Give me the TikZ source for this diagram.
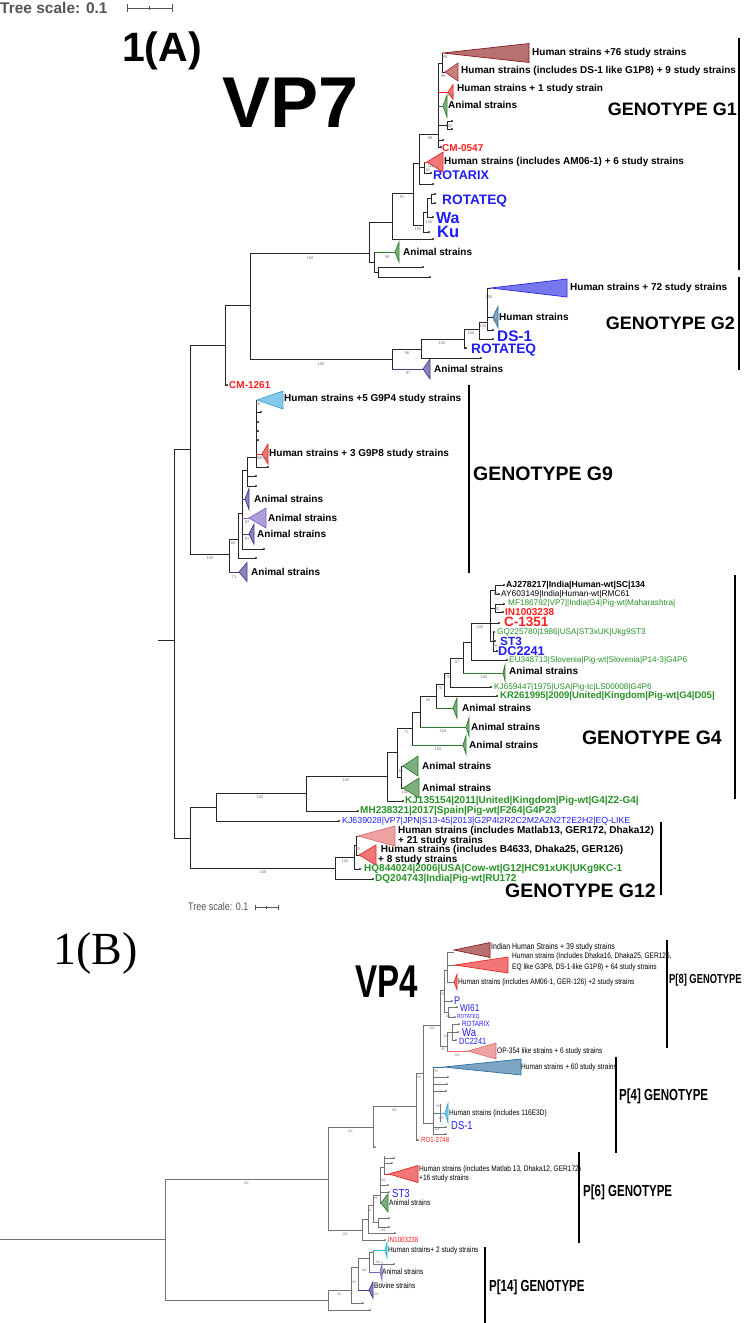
\documentclass[tikz,border=0pt]{standalone}
\usepackage{fontspec}
\setmainfont{Liberation Sans}
\newfontfamily\narrowsans[FakeStretch=0.82]{Liberation Sans}
\newfontfamily\condsans[FakeStretch=0.72]{Liberation Sans}
\newfontfamily\romanfont{Liberation Serif}
\usepackage{tikz}
\definecolor{refblue}{HTML}{1E1EF0}
\definecolor{studyred}{HTML}{FF2020}
\definecolor{accgreen}{HTML}{279127}
\definecolor{scalegray}{HTML}{555555}
\definecolor{cMaroon}{HTML}{8B1A1A}
\definecolor{cBrown}{HTML}{A83030}
\definecolor{cRed}{HTML}{E82424}
\definecolor{cPink}{HTML}{E26A6A}
\definecolor{cBlue}{HTML}{2424E6}
\definecolor{cSteel}{HTML}{2C6EA0}
\definecolor{cSky}{HTML}{3AA6DA}
\definecolor{cGreen}{HTML}{2E7D2E}
\definecolor{cPurple}{HTML}{4B3690}
\definecolor{cLilac}{HTML}{7C62C2}
\definecolor{cCyan}{HTML}{22BCD4}
\newcommand{\fsz}[1]{\fontsize{#1}{#1}\selectfont}
\newcommand{\clade}[5]{\filldraw[clade=#5] (#1,#2) -- (#3,{#2-#4}) -- (#3,{#2+#4}) -- cycle;}
\newcommand{\leaf}[3]{\draw[branch] (#1,#2) -- (#3,#2); \fill[black!85] (#3,#2) circle (1.1);}
\newcommand{\leafB}[3]{\draw[branchB] (#1,#2) -- (#3,#2); \fill[black!70] (#3,#2) circle (0.9);}
\tikzset{
  branch/.style={draw=black!85, line width=0.9pt},
  branchB/.style={draw=black!55, line width=0.6pt},
  clade/.style={draw=#1, fill=#1, fill opacity=0.62, line width=0.7pt},
  genobar/.style={draw=black, line width=2.6pt},
  genobarB/.style={draw=black, line width=1.6pt},
  bs/.style={font=\fsz{4}, text=black!55, inner sep=0pt},
  bsB/.style={font=\narrowsans\fsz{3.5}, text=black!55, inner sep=0pt},
  clbl/.style={anchor=west, inner sep=1pt, font=\bfseries\fsz{10}},
  ref/.style={anchor=west, inner sep=1pt, text=refblue, font=\bfseries\fsz{#1}},
  study/.style={anchor=west, inner sep=1pt, text=studyred, font=\bfseries\fsz{#1}},
  acc/.style={anchor=west, inner sep=1pt, text=accgreen, font=\fsz{#1}},
  accb/.style={anchor=west, inner sep=1pt, text=accgreen, font=\bfseries\fsz{#1}},
  geno/.style={inner sep=0pt, font=\bfseries\fsz{#1}},
  lblB/.style={anchor=west, inner sep=1pt, font=\narrowsans\fsz{8}},
  refB/.style={anchor=west, inner sep=1pt, text=refblue, font=\narrowsans\fsz{#1}},
  studyB/.style={anchor=west, inner sep=1pt, text=studyred, font=\narrowsans\fsz{#1}},
  genoB/.style={anchor=west, inner sep=0pt, font=\condsans\bfseries\fsz{#1}}
}
\begin{document}
\begin{tikzpicture}[x=1pt, y=-1pt]
\useasboundingbox (0,0) rectangle (744,1323);

\node[anchor=west, inner sep=0pt, text=scalegray, font=\bfseries\fsz{15.5}] (scaleA) at (0,8) {Tree scale: 0.1};
\draw[draw=scalegray, line width=0.9pt] (127,8) -- (172,8) (127,4) -- (127,12) (172,4) -- (172,12) (149.5,6) -- (149.5,10);
\node[anchor=base west, inner sep=0pt, font=\bfseries\fsz{41}] (figA) at (122,61) {1(A)};
\node[anchor=base west, inner sep=0pt, font=\bfseries\fsz{72}] (vpA) at (222,127) {VP7};

\draw[branch] (158,640) -- (174,640) (174,449) -- (174,838)
  (174,449) -- (190,449) (190,345) -- (190,554)
  (190,345) -- (225,345) (225,305) -- (225,385)
  (225,305) -- (250,305) (250,253) -- (250,359)
  (250,253) -- (369,253) (250,359) -- (392,359)
  (190,554) -- (229,554) (174,838) -- (190,838);
\leaf{225}{385}{227}
\node[study=10] (cm1261) at (228,385) {CM-1261};

\draw[branch] (369,222) -- (369,262) (369,222) -- (392,222) (369,262) -- (374,262)
  (374,252) -- (374,272) (374,272) -- (378,272) (378,267) -- (378,277)
  (392,193) -- (392,239) (392,193) -- (413,193)
  (413,163) -- (413,225) (413,225) -- (423,225) (413,163) -- (419,163)
  (423,212) -- (423,232) (423,212) -- (427,212)
  (427,198) -- (427,217) (427,198) -- (431,198) (431,194) -- (431,203)
  (419,134) -- (419,184) (419,167) -- (424,167) (424,162) -- (424,173) (419,134) -- (438,134)
  (438,63) -- (438,147) (438,63) -- (442,63) (442,53) -- (442,72)
  (438,125) -- (447,125) (447,121) -- (447,129)
  (442,53) -- (443,53) (442,72) -- (445,72);
\draw[branch, draw=cGreen] (374,252) -- (395,252) (438,106) -- (443,106);
\draw[branch, draw=cRed] (438,92) -- (448,92) (424,162) -- (427,162);
\leaf{378}{267}{423} \leaf{378}{277}{430} \leaf{392}{239}{433} \leaf{423}{232}{429}
\leaf{427}{217}{433} \leaf{431}{194}{435} \leaf{431}{203}{435} \leaf{419}{184}{433}
\leaf{424}{173}{431} \leaf{438}{147}{441} \leaf{438}{140}{443} \leaf{447}{121}{452} \leaf{447}{129}{452}
\clade{443}{53}{529}{9.5}{cMaroon}
\clade{445}{72}{458}{9}{cBrown}
\clade{448}{92}{453}{7.5}{cRed}
\clade{443}{106}{447}{11}{cGreen}
\clade{427}{162}{443}{10}{cRed}
\clade{395}{252}{399}{10}{cGreen}
\node[clbl] (g1a) at (531,53) {Human strains +76 study strains};
\node[clbl] (g1b) at (460,71) {Human strains (includes DS-1 like G1P8) + 9 study strains};
\node[clbl] (g1c) at (456,89) {Human strains + 1 study strain};
\node[clbl] (g1d) at (447,105) {Animal strains};
\node[study=10] (cm0547) at (441,148) {CM-0547};
\node[clbl] (g1e) at (443,162) {Human strains (includes AM06-1) + 6 study strains};
\node[ref=12.6] (rotarixA) at (432,175) {ROTARIX};
\node[ref=13.7] (rotateqA) at (441,201) {ROTATEQ};
\node[ref=16] (waA) at (435,218) {Wa};
\node[ref=16.5] (kuA) at (436,232) {Ku};
\node[clbl] (g1f) at (402,252) {Animal strains};
\draw[genobar] (739,38) -- (739,270);
\node[geno=18, anchor=base east] (genoG1) at (737,115) {GENOTYPE G1};

\draw[branch] (392,349) -- (392,369) (392,349) -- (421,349)
  (421,339) -- (421,358) (421,339) -- (464,339)
  (464,329) -- (464,348) (464,329) -- (479,329)
  (479,322) -- (479,339) (479,322) -- (487,322)
  (487,288) -- (487,330) (487,288) -- (491,288) (487,317) -- (493,317);
\draw[branch, draw=cPurple] (392,369) -- (423,369);
\leaf{421}{358}{481} \leaf{464}{348}{466} \leaf{479}{339}{493} \leaf{487}{330}{493}
\clade{491}{288}{567}{9}{cBlue}
\clade{493}{317}{498}{10.5}{cSteel}
\clade{423}{369}{430}{10}{cPurple}
\node[clbl] (g2a) at (569,288) {Human strains + 72 study strains};
\node[clbl] (g2b) at (498,317) {Human strains};
\node[ref=15.3] (ds1A) at (496,336) {DS-1};
\node[ref=13.7] (rotateqA2) at (470,350) {ROTATEQ};
\node[clbl] (g2c) at (433,369) {Animal strains};
\draw[genobar] (739,277) -- (739,370);
\node[geno=18, anchor=base east] (genoG2) at (735,329) {GENOTYPE G2};

\draw[branch] (229,539) -- (229,572) (229,539) -- (238,539)
  (238,513) -- (238,558) (238,513) -- (242,513)
  (242,470) -- (242,549) (242,470) -- (247,470)
  (247,457) -- (247,486) (247,457) -- (256,457)
  (256,400) -- (256,467) (256,400) -- (257,400);
\draw[branch, draw=cPurple] (229,572) -- (239,572) (242,534) -- (249,534) (242,499) -- (245,499);
\draw[branch, draw=cLilac] (242,518) -- (249,518);
\draw[branch, draw=cRed] (256,454) -- (262,454);
\leaf{238}{558}{256} \leaf{242}{549}{264} \leaf{247}{486}{256} \leaf{247}{476}{256}
\leaf{256}{467}{268} \leaf{256}{412}{261} \leaf{256}{422}{258} \leaf{256}{431}{258} \leaf{256}{440}{258}
\clade{257}{400}{283}{9}{cSky}
\clade{262}{454}{268}{10}{cRed}
\clade{245}{499}{249}{10.5}{cPurple}
\clade{249}{518}{266}{10}{cLilac}
\clade{249}{534}{254}{10}{cPurple}
\clade{239}{572}{247}{9.5}{cPurple}
\node[clbl] (g9a) at (283,399) {Human strains +5 G9P4 study strains};
\node[clbl] (g9b) at (268,454) {Human strains + 3 G9P8 study strains};
\node[clbl] (g9c) at (253,499) {Animal strains};
\node[clbl] (g9d) at (267,518) {Animal strains};
\node[clbl] (g9e) at (256,534) {Animal strains};
\node[clbl] (g9f) at (250,572) {Animal strains};
\draw[genobar] (469,385) -- (469,573);
\node[geno=19.5, anchor=base west] (genoG9) at (473,480) {GENOTYPE G9};

\draw[branch] (190,807) -- (190,868) (190,807) -- (216,807) (190,868) -- (335,868)
  (216,793) -- (216,821) (216,793) -- (306,793)
  (306,776) -- (306,811) (306,776) -- (387,776)
  (387,752) -- (387,801) (387,752) -- (397,752)
  (397,728) -- (397,777) (397,777) -- (401,777) (397,728) -- (412,728)
  (401,766) -- (401,788) (401,766) -- (403,766) (401,788) -- (403,788)
  (412,712) -- (412,745) (412,712) -- (420,712)
  (420,696) -- (420,727) (420,696) -- (436,696)
  (436,684) -- (436,708) (436,684) -- (444,684)
  (444,673) -- (444,696) (444,673) -- (450,673)
  (450,658) -- (450,687) (450,658) -- (463,658)
  (463,642) -- (463,673) (463,642) -- (471,642)
  (471,623) -- (471,660) (471,623) -- (490,623)
  (490,590) -- (490,641) (490,590) -- (495,590) (490,608) -- (495,608) (490,641) -- (493,641)
  (495,585) -- (495,594) (495,604) -- (495,612) (493,632) -- (493,651);
\draw[branch, draw=cGreen] (412,745) -- (463,745) (420,727) -- (466,727) (436,708) -- (453,708) (463,673) -- (503,673);
\leaf{216}{821}{339} \leaf{306}{811}{358} \leaf{387}{801}{403} \leaf{444}{696}{497} \leaf{450}{687}{491}
\leaf{471}{660}{507} \leaf{495}{585}{504} \leaf{495}{594}{499} \leaf{495}{604}{504} \leaf{495}{612}{503}
\leaf{490}{623}{499} \leaf{493}{632}{494} \leaf{493}{641}{495} \leaf{493}{651}{497}
\clade{403}{766}{418}{10}{cGreen}
\clade{403}{788}{419}{10}{cGreen}
\clade{463}{745}{466}{9}{cGreen}
\clade{466}{727}{469}{9}{cGreen}
\clade{453}{708}{457}{10}{cGreen}
\clade{503}{673}{505}{8}{cGreen}
\node[clbl, font=\bfseries\fsz{8.7}] (aj278217) at (505,585) {AJ278217|India|Human-wt|SC|134};
\node[clbl, font=\fsz{8.3}] (ay603149) at (500,594) {AY603149|India|Human-wt|RMC61};
\node[acc=8.2] (mf186792) at (507,603.5) {MF186792|VP7||India|G4|Pig-wt|Maharashtra|};
\node[study=10] (in1003238A) at (504,612) {IN1003238};
\node[study=13.5] (c1351) at (503,622) {C-1351};
\node[acc=8.2] (gq225780) at (496,632.5) {GQ225780|1986|USA|ST3xUK|Ukg9ST3};
\node[ref=11.8] (st3A) at (499,641) {ST3};
\node[ref=12.7] (dc2241A) at (497,651) {DC2241};
\node[acc=8.2] (eu348713) at (508,660) {EU348713|Slovenia|Pig-wt|Slovenia|P14-3|G4P6};
\node[clbl] (g4a) at (508,671) {Animal strains};
\node[acc=8.2] (kj659447) at (493,687) {KJ659447|1975|USA|Pig-tc|LS00008|G4P6};
\node[accb=9.5] (kr261995) at (499,696) {KR261995|2009|United|Kingdom|Pig-wt|G4|D05|};
\node[clbl] (g4b) at (461,708) {Animal strains};
\node[clbl] (g4c) at (470,727) {Animal strains};
\node[clbl] (g4d) at (468,745) {Animal strains};
\node[clbl] (g4e) at (421,766) {Animal strains};
\node[clbl] (g4f) at (421,788) {Animal strains};
\node[accb=10] (kj135154) at (404,801) {KJ135154|2011|United|Kingdom|Pig-wt|G4|Z2-G4|};
\node[accb=10] (mh238321) at (359,811) {MH238321|2017|Spain|Pig-wt|F264|G4P23};
\node[anchor=west, inner sep=1pt, text=refblue, font=\fsz{8.8}] (kj639028) at (341,821) {KJ639028|VP7|JPN|S13-45|2013|G2P4I2R2C2M2A2N2T2E2H2|EQ-LIKE};
\draw[genobar] (735,575) -- (735,799);
\node[geno=19.5, anchor=base east] (genoG4) at (722,744) {GENOTYPE G4};

\draw[branch] (335,857) -- (335,879) (335,857) -- (354,857)
  (354,845) -- (354,869) (354,845) -- (356,845)
  (356,836) -- (356,855) (356,836) -- (358,836) (356,855) -- (359,855);
\leaf{335}{879}{373} \leaf{354}{869}{360}
\clade{358}{836}{395}{10}{cPink}
\clade{359}{855}{376}{10}{cRed}
\node[clbl, align=left] (g12a) at (397,836) {Human strains (includes Matlab13, GER172, Dhaka12)\\+ 21 study strains};
\node[clbl, align=left] (g12b) at (377,855) {\ Human strains (includes B4633, Dhaka25, GER126)\\+ 8 study strains};
\node[accb=10] (hq844024) at (363,869) {HQ844024|2006|USA|Cow-wt|G12|HC91xUK|UKg9KC-1};
\node[accb=10] (dq204743) at (374,879) {DQ204743|India|Pig-wt|RU172};
\draw[genobar] (661,822) -- (661,895);
\node[geno=19.5, anchor=base east] (genoG12) at (656,897) {GENOTYPE G12};

\foreach \bx/\by/\bv [count=\bi] in {310/258/100, 387/257/99, 402/197/91, 418/229/100, 429/222/100,
  430/138/99, 445/57/99, 443/76/99, 451/95/100, 449/126/100, 428/170/62, 431/166/100,
  321/364/100, 407/353/96, 408/373/97, 442/343/100, 471/333/100, 483/326/100, 489/297/100, 495/321/99,
  210/558/100, 234/577/71, 233/543/66, 247/522/97, 247/539/97, 258/404/65, 259/458/98, 264/458/100,
  260/797/100, 263/872/100, 346/780/100, 401/771/66, 405/792/100, 406/732/71, 438/749/100, 443/731/100,
  428/700/94, 440/688/70, 447/677/73, 457/662/97, 484/677/100, 480/627/100, 497/609/92, 496/594/66,
  495/646/78, 345/861/100, 357/849/100}
  \node[bs] (bsA\bi) at (\bx,\by) {\bv};

\node[anchor=west, inner sep=0pt, text=scalegray, font=\narrowsans\fsz{11}] (scaleB) at (188,907) {Tree scale: 0.1};
\draw[draw=scalegray, line width=0.6pt] (255,907) -- (278,907) (255,904.5) -- (255,909.5) (278,904.5) -- (278,909.5) (266.5,905.5) -- (266.5,908.5);
\node[anchor=base west, inner sep=0pt, font=\romanfont\fsz{46}] (figB) at (53,964) {1(B)};
\node[anchor=base west, inner sep=0pt, font=\condsans\bfseries\fsz{46}] (vpB) at (355,997) {VP4};

\draw[branchB] (0,1239) -- (165,1239) (165,1179) -- (165,1300)
  (165,1179) -- (328,1179) (165,1300) -- (328,1300)
  (328,1127) -- (328,1230) (328,1127) -- (373,1127) (328,1230) -- (362,1230)
  (373,1106) -- (373,1147) (373,1106) -- (416,1106)
  (416,1073) -- (416,1140) (416,1073) -- (423,1073)
  (423,1025) -- (423,1123) (423,1025) -- (440,1025) (423,1123) -- (433,1123)
  (433,1067) -- (433,1134) (433,1113) -- (440,1113) (440,1104) -- (440,1122)
  (440,990) -- (440,1046) (440,990) -- (444,990) (440,1046) -- (447,1046)
  (444,970) -- (444,1012) (444,970) -- (447,970) (444,1012) -- (448,1012)
  (447,952) -- (447,982) (447,952) -- (454,952) (447,965) -- (455,965) (447,982) -- (454,982)
  (448,1007) -- (448,1017)
  (447,1032) -- (447,1051) (447,1032) -- (452,1032) (452,1024) -- (452,1040);
\draw[branchB, draw=cSteel] (433,1067) -- (444,1067);
\draw[branchB, draw=cSky] (440,1113) -- (445,1113);
\draw[branchB, draw=cPink] (447,1051) -- (468,1051);
\leafB{373}{1147}{375} \leafB{416}{1140}{418} \leafB{433}{1077}{448} \leafB{433}{1084}{447}
\leafB{433}{1091}{446} \leafB{433}{1127}{446} \leafB{433}{1134}{446} \leafB{444}{1001}{452}
\leafB{448}{1007}{457} \leafB{448}{1017}{455} \leafB{452}{1024}{459} \leafB{452}{1032}{458} \leafB{452}{1040}{456}
\clade{454}{950}{490}{7.5}{cMaroon}
\clade{455}{965}{508}{8}{cRed}
\clade{454}{982}{457}{7.5}{cRed}
\clade{468}{1051}{496}{8}{cPink}
\clade{444}{1067}{521}{8}{cSteel}
\clade{445}{1113}{448}{9.5}{cSky}
\node[lblB, font=\narrowsans\fsz{8.5}] (p8a) at (490,947) {Indian Human Strains + 39 study strains};
\node[lblB, font=\narrowsans\fontsize{8}{11}\selectfont, align=left] (p8b) at (511,962) {Human strains (Includes Dhaka16, Dhaka25, GER126,\\EQ like G3P8, DS-1-like G1P8) + 64 study strains};
\node[lblB] (p8c) at (457,982) {Human strains (includes AM06-1, GER-126) +2 study strains};
\node[refB=11] (pB) at (453,1001) {P};
\node[refB=10] (wi61) at (459,1008) {WI61};
\node[refB=5.8] (rotateqB) at (456,1017) {ROTATEQ};
\node[refB=7.6] (rotarixB) at (461,1024) {ROTARIX};
\node[refB=11.5] (waB) at (461,1033) {Wa};
\node[refB=9] (dc2241B) at (458,1041) {DC2241};
\node[lblB] (p8d) at (496,1051) {OP-354 like strains + 6 study strains};
\draw[genobarB] (667,940) -- (667,1048);
\node[genoB=13] (genoP8) at (669,980) {P[8] GENOTYPE};
\node[lblB] (p4a) at (520,1067) {Human strains + 60 study strains};
\node[lblB] (p4b) at (448,1113) {Human strains (includes 116E3D)};
\node[refB=11.5] (ds1B) at (450,1126) {DS-1};
\node[studyB=7.4] (ro12748) at (420,1140) {RO1-2748};
\draw[genobarB] (616,1057) -- (616,1153);
\node[genoB=16] (genoP4) at (619,1096) {P[4] GENOTYPE};

\draw[branchB] (362,1219) -- (362,1240) (362,1219) -- (368,1219)
  (368,1205) -- (368,1233) (368,1205) -- (373,1205)
  (373,1195) -- (373,1222) (373,1222) -- (378,1222) (378,1218) -- (378,1227) (373,1195) -- (380,1195)
  (380,1167) -- (380,1203) (380,1167) -- (384,1167) (384,1156) -- (384,1174);
\draw[branchB, draw=cGreen] (380,1203) -- (381,1203);
\draw[branchB, draw=cRed] (384,1174) -- (389,1174);
\leafB{362}{1240}{385} \leafB{368}{1233}{395} \leafB{378}{1218}{389} \leafB{378}{1227}{389}
\leafB{380}{1192}{389} \leafB{380}{1185}{388} \leafB{384}{1158}{394} \leafB{384}{1163}{392}
\clade{389}{1174}{418}{8.5}{cRed}
\clade{381}{1203}{388}{9}{cGreen}
\node[lblB, font=\narrowsans\fontsize{8}{9}\selectfont, align=left] (p6a) at (418,1174) {Human strains (includes Matlab 13, Dhaka12, GER172)\\+16 study strains};
\node[refB=11.7] (st3B) at (391,1193) {ST3};
\node[lblB] (p6b) at (388,1203) {Animal strains};
\node[studyB=7.5] (in1003238B) at (387,1240) {IN1003238};
\draw[genobarB] (579,1152) -- (579,1243);
\node[genoB=16] (genoP6) at (583,1192) {P[6] GENOTYPE};

\draw[branchB] (328,1290) -- (328,1310) (328,1290) -- (351,1290)
  (351,1267) -- (351,1303) (351,1267) -- (358,1267)
  (358,1258) -- (358,1290) (358,1258) -- (369,1258)
  (369,1252) -- (369,1272) (369,1252) -- (373,1252) (373,1250) -- (373,1264);
\draw[branchB, draw=cPurple] (358,1290) -- (369,1290);
\draw[branchB, draw=cLilac] (369,1272) -- (380,1272);
\draw[branchB, draw=cCyan] (373,1250) -- (385,1250);
\leafB{328}{1310}{370} \leafB{351}{1303}{363} \leafB{373}{1264}{394}
\clade{385}{1250}{387}{7.5}{cCyan}
\clade{380}{1272}{382}{8}{cLilac}
\clade{369}{1290}{373}{8}{cPurple}
\node[lblB] (p14a) at (387,1250) {Human strains+ 2 study strains};
\node[lblB] (p14b) at (381,1272) {Animal strains};
\node[lblB] (p14c) at (373,1286) {Bovine strains};
\draw[genobarB] (485,1247) -- (485,1323);
\node[genoB=16] (genoP14) at (489,1287) {P[14] GENOTYPE};

\foreach \bx/\by/\bv [count=\bi] in {246/1183/100, 350/1131/100, 345/1234/100, 394/1110/100, 419/1077/99,
  432/1028/100, 443/994/98, 448/1016/100, 446/1036/100, 457/1055/100, 443/1049/96, 436/1071/99,
  438/1106/99, 441/1118/100, 437/1129/100, 339/1294/99, 354/1282/98, 364/1270/100, 376/1198/99,
  370/1210/91, 383/1230/100, 383/1180/100, 378/1262/100, 376/1294/100}
  \node[bsB] (bsB\bi) at (\bx,\by) {\bv};
\end{tikzpicture}
\end{document}
